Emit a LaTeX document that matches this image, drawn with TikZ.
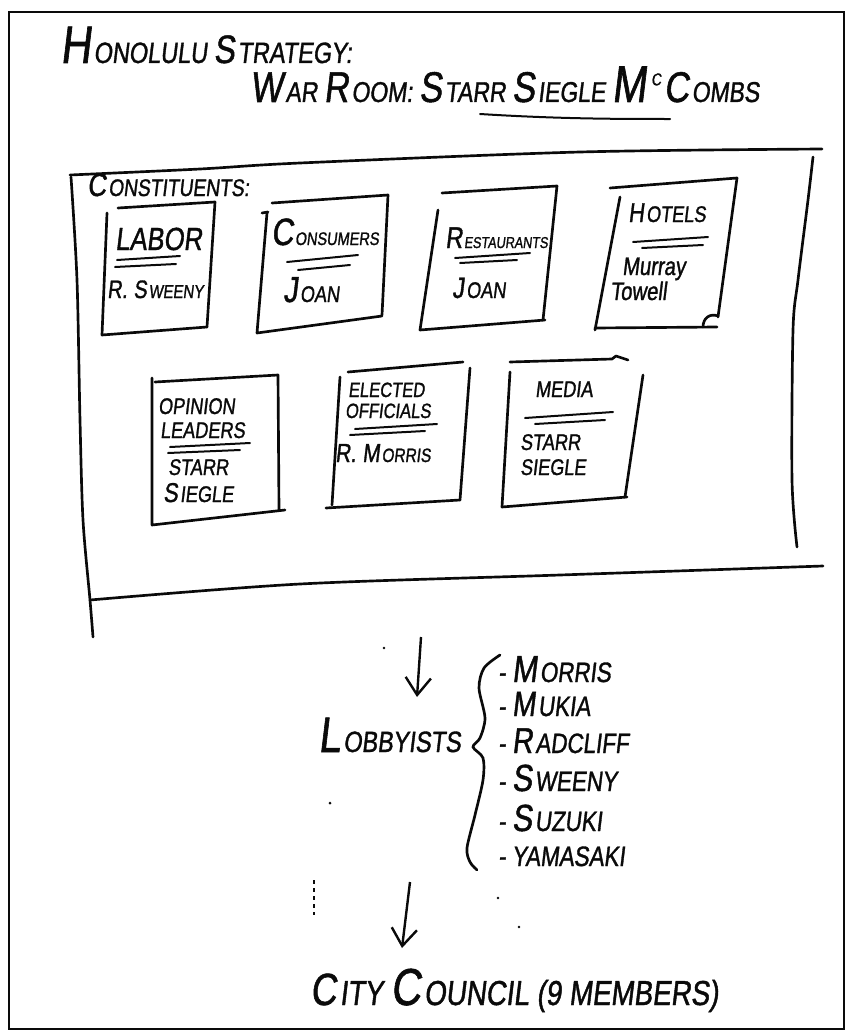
\documentclass[tikz,border=0pt]{standalone}
\usepackage{fontspec}
\usepackage{graphicx}
\usepackage{tikz}
\usetikzlibrary{arrows.meta,positioning}
\newfontfamily\handfont[FakeSlant=0.12,FakeStretch=0.8,FakeBold=1.2]{Liberation Sans}
\newcommand{\Up}[2][1.35]{\scalebox{#1}{#2}\kern0.1em\relax}
\definecolor{pen}{HTML}{0A0A0A}
\tikzset{
  hand/.style={
    font={\handfont\fontsize{#1}{#1}\selectfont},
    text=pen,
    inner sep=0pt,
    anchor=base west
  },
  frameline/.style={draw=pen,line width=2.2pt},
  sheetedge/.style={draw=pen,line width=2pt,line cap=round},
  cardedge/.style={draw=pen,line width=2pt,line cap=round,line join=round},
  penline/.style={draw=pen,line width=1.5pt,line cap=round},
  flowarrow/.style={-{Straight Barb[length=13pt,width=19pt]},line width=1.8pt,draw=pen},
  speck/.style={fill=pen}
}
\begin{document}
\begin{tikzpicture}[x=0.75pt,y=-0.75pt]
  \useasboundingbox (0,0) rectangle (847,1031);
  \draw[frameline] (9,12) rectangle (844,1029);
  % headings
  \node[hand=22] (title) at (60,63) {\Up[1.8]{H}ONOLULU \Up{S}TRATEGY:};
  \node[hand=21.5] (warroom) at (250,102) {\Up[1.5]{W}AR \Up[1.5]{R}OOM: \Up[1.5]{S}TARR \Up[1.5]{S}IEGLE \Up[1.8]{M}\kern0.08em\raisebox{1.1ex}{\scalebox{0.6}{C}}\kern0.1em\Up[1.5]{C}OMBS};
  \draw[penline] (480,114) .. controls (560,119) and (620,119) .. (670,119);
  % constituents sheet
  \draw[sheetedge] plot[smooth] coordinates {(70,175) (200,169) (300,163) (580,152) (822,149)};
  \draw[sheetedge] plot[smooth] coordinates {(813,157) (808,200) (798,280) (793,330) (792,480) (797,547)};
  \draw[sheetedge] plot[smooth] coordinates {(71,177) (77,280) (80,420) (83,520) (90,600) (93,637)};
  \draw[sheetedge] plot[smooth] coordinates {(90,600) (300,584) (560,575) (823,566)};
  \node[hand=18] (constit) at (87,196) {\Up{C}ONSTITUENTS:};
  % row one
  \draw[cardedge] (118,208) -- (215,202) -- (207,327);
  \draw[cardedge] (107,213) -- (102,335) -- (207,327);
  \node[hand=24] (labor) at (115,250) {LABOR};
  \draw[penline] (117,260) -- (180,256);
  \draw[penline] (115,267) -- (176,264);
  \node[hand=14] (laborlead) at (107,298) {\Up{R.} \Up{S}WEENY};

  \draw[cardedge] (272,203) -- (388,195) -- (382,315);
  \draw[cardedge] (262,213) -- (268,212);
  \draw[cardedge] (267,213) -- (257,333) -- (382,316);
  \node[hand=13.6] (consumers) at (271,245) {\Up[2.1]{C}ONSUMERS};
  \draw[penline] (287,262) -- (358,255);
  \draw[penline] (298,270) -- (350,265);
  \node[hand=17] (consumerslead) at (283,302) {\Up[1.6]{J}OAN};

  \draw[cardedge] (442,193) -- (557,186) -- (543,320);
  \draw[cardedge] (438,210) -- (420,330) -- (545,320);
  \node[hand=11.8] (restaurants) at (445,248) {\Up[1.9]{R}ESTAURANTS};
  \draw[penline] (455,258) -- (530,253);
  \draw[penline] (460,263) -- (517,260);
  \node[hand=17] (restaurantslead) at (452,298) {\Up[1.3]{J}OAN};

  \draw[cardedge] (610,188) -- (737,178) -- (718,317);
  \draw[cardedge] (620,197) -- (595,330);
  \draw[cardedge] (595,328) -- (717,327);
  \draw[cardedge] (703,327) .. controls (703,318) and (710,313) .. (718,316);
  \node[hand=17] (hotels) at (628,222) {\Up[1.2]{H}OTELS};
  \draw[penline] (633,242) -- (708,237);
  \draw[penline] (642,248) -- (703,245);
  \node[hand=19] (hotelslead) at (622,275) {Murray};
  \node[hand=19] (hotelslead2) at (610,300) {Towell};
  % row two
  \draw[cardedge] (155,382) -- (278,375) -- (279,510);
  \draw[cardedge] (152,378) -- (152,525) -- (285,510);
  \node[hand=17] (opinion) at (158,414) {OPINION};
  \node[hand=17] (leaders) at (160,438) {LEADERS};
  \draw[penline] (170,447) -- (250,443);
  \draw[penline] (168,453) -- (240,450);
  \node[hand=17] (opinionlead) at (168,475) {STARR};
  \node[hand=17] (opinionlead2) at (163,502) {\Up[1.2]{S}IEGLE};

  \draw[cardedge] (348,372) -- (463,362);
  \draw[cardedge] (470,368) -- (460,500);
  \draw[cardedge] (340,377) -- (332,505);
  \draw[cardedge] (326,508) -- (460,500);
  \node[hand=15.5] (elected) at (348,397) {ELECTED};
  \node[hand=15.5] (officials) at (345,418) {OFFICIALS};
  \draw[penline] (355,429) -- (437,424);
  \draw[penline] (350,435) -- (425,431);
  \node[hand=14.5] (electedlead) at (335,462) {\Up{R.} \Up{M}ORRIS};

  \draw[cardedge] (510,362) -- (612,359) -- (616,356) -- (628,360);
  \draw[cardedge] (643,375) -- (625,497);
  \draw[cardedge] (510,372) -- (502,507) -- (627,497);
  \node[hand=17] (media) at (535,397) {MEDIA};
  \draw[penline] (525,418) -- (613,412);
  \draw[penline] (535,424) -- (605,420);
  \node[hand=17] (medialead) at (520,450) {STARR};
  \node[hand=17] (medialead2) at (520,475) {SIEGLE};
  % lobbyists
  \coordinate (sheetout) at (421,637);
  \coordinate (lobbyin) at (417,697);
  \draw[flowarrow] (sheetout) -- (lobbyin);
  \node[hand=22] (lobby) at (318,752) {\Up[1.7]{L}OBBYISTS};
  \draw[sheetedge] plot[smooth] coordinates {(500,655) (484,668) (479,688) (485,718) (480,738) (473,747) (483,758) (483,780) (475,815) (467,848) (470,862) (477,870)};
  \node[hand=21] (morris) at (498,682) {- \Up{M}ORRIS};
  \node[hand=21] (mukia) at (498,716) {- \Up[1.25]{M}UKIA};
  \node[hand=21] (radcliff) at (498,753) {- \Up[1.28]{R}ADCLIFF};
  \node[hand=21] (sweeny) at (498,791) {- \Up[1.35]{S}WEENY};
  \node[hand=21] (suzuki) at (498,831) {- \Up[1.35]{S}UZUKI};
  \node[hand=21] (yamasaki) at (498,866) {- YAMASAKI};
  % city council
  \coordinate (lobbyout) at (410,882);
  \coordinate (councilin) at (402,948);
  \draw[flowarrow] (lobbyout) -- (councilin);
  \node[hand=26] (council) at (310,1005) {\Up[1.3]{C}ITY \Up[1.5]{C}OUNCIL (9 MEMBERS)};
  % specks
  \fill[speck] (384,648) circle (1.3);
  \fill[speck] (330,803) circle (1.5);
  \fill[speck] (498,898) circle (1.3);
  \fill[speck] (519,927) circle (1.3);
  \draw[pen,line width=0.8pt,dash pattern=on 3pt off 3pt] (314,880) -- (314,915);
\end{tikzpicture}
\end{document}
